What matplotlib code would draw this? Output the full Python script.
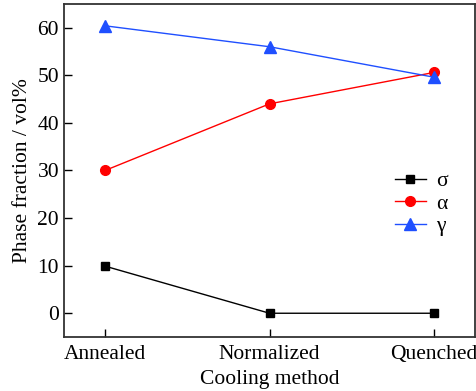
import matplotlib
matplotlib.use('Agg')
import matplotlib.pyplot as plt

# Phase fractions for each cooling route
methods = ['Annealed', 'Normalized', 'Quenched']
sigma = [9.9, 0.0, 0.0]
alpha = [30.0, 44.0, 50.6]
gamma = [60.4, 56.0, 49.6]

plt.rcParams['font.family'] = ['Liberation Serif', 'DejaVu Serif']

fig = plt.figure(figsize=(4.77, 3.91), dpi=100)
ax = fig.add_axes([0.134, 0.138, 0.862, 0.852])

x = range(len(methods))
ax.plot(x, sigma, color='black', lw=1.0, marker='s', ms=6, label='σ')
ax.plot(x, alpha, color='#ff0000', lw=1.0, marker='o', ms=7, label='α')
ax.plot(x, gamma, color='#1f4fff', lw=1.0, marker='^', ms=8, label='γ')

ax.set_xlim(-0.25, 2.25)
ax.set_ylim(-5, 65)
ax.set_xticks(list(x))
ax.set_xticklabels(methods)
ax.set_yticks([0, 10, 20, 30, 40, 50, 60])
ax.tick_params(direction='in', length=6, width=1.0, labelsize=15.5)
ax.tick_params(axis='x', pad=6)
ax.set_xlabel('Cooling method', fontsize=15.5, labelpad=4)
ax.set_ylabel('Phase fraction / vol%', fontsize=15.5, labelpad=4)
for s in ax.spines.values():
    s.set_linewidth(1.3)
    s.set_color('#333333')

ax.legend(loc='center left', bbox_to_anchor=(0.757, 0.40), frameon=False,
          fontsize=15.5, handlelength=1.45, handletextpad=0.5, labelspacing=0.12)

fig.savefig('out.png', dpi=100)
